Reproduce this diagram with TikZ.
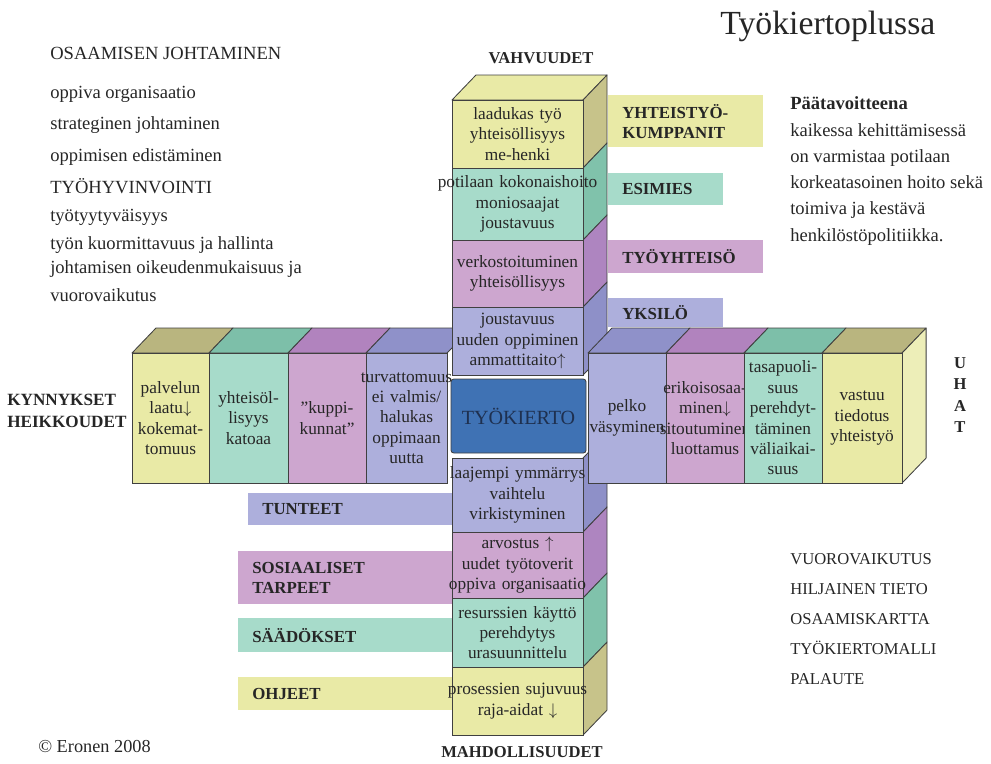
\documentclass[tikz,border=0pt]{standalone}
\usepackage{fontspec}
\setmainfont{Liberation Serif}
\usetikzlibrary{positioning, calc}

\definecolor{yelF}{HTML}{E9EAA6}
\definecolor{yelT}{HTML}{B9B57F}
\definecolor{yelS}{HTML}{C7C38A}
\definecolor{tealF}{HTML}{A7DBCA}
\definecolor{tealT}{HTML}{7DBFA9}
\definecolor{tealS}{HTML}{80C2AB}
\definecolor{pinkF}{HTML}{CDA6CF}
\definecolor{pinkT}{HTML}{B183BE}
\definecolor{pinkS}{HTML}{AE85C0}
\definecolor{blueF}{HTML}{ADAFDC}
\definecolor{blueT}{HTML}{8F91C9}
\definecolor{blueS}{HTML}{8E90C8}
\definecolor{kierto}{HTML}{3F72B4}
\definecolor{navy}{HTML}{1E3050}

\pgfdeclarelayer{faces}
\pgfsetlayers{faces,main}

\tikzstyle{cell} = [rectangle, draw=black!75, line width=0.6pt, inner sep=0pt, outer sep=0pt, align=center, text=black!85, font=\fontsize{12.3}{14.5}\selectfont]
\tikzstyle{sideface} = [draw=black!75, line width=0.6pt, line join=round]
\tikzstyle{tagbox} = [rectangle, anchor=north west, inner xsep=0.35cm, inner ysep=0pt, align=left, text=black!85, font=\bfseries\fontsize{12}{14.5}\selectfont]
\tikzstyle{txt} = [anchor=base west, inner sep=0pt, text=black!85, font=\fontsize{13.2}{16}\selectfont]
\tikzstyle{capt} = [inner sep=0pt, text=black!85, font=\bfseries\fontsize{11.8}{15}\selectfont]

\newcommand{\wideline}[1]{\makebox[\linewidth]{#1}}

\begin{document}
\begin{tikzpicture}[x=0.025cm, y=-0.025cm]
\useasboundingbox (0,0) rectangle (991,763);

% labels beside the column
\node (tunteet) [tagbox, fill=blueF, text width=4.6cm, minimum height=0.8cm] at (248,493) {TUNTEET};
\node (sosiaal) [tagbox, fill=pinkF, text width=4.85cm, minimum height=1.325cm] at (238,551) {SOSIAALISET\\TARPEET};
\node (saadok) [tagbox, fill=tealF, text width=4.85cm, minimum height=0.85cm] at (238,618) {SÄÄDÖKSET};
\node (ohjeet) [tagbox, fill=yelF, text width=4.85cm, minimum height=0.825cm] at (238,677) {OHJEET};
\node (kumpp) [tagbox, fill=yelF, text width=3.175cm, minimum height=1.3cm] at (608,95) {YHTEISTYÖ-\\KUMPPANIT};
\node (esimies) [tagbox, fill=tealF, text width=2.175cm, minimum height=0.8cm] at (608,173) {ESIMIES};
\node (tyoyht) [tagbox, fill=pinkF, text width=3.175cm, minimum height=0.825cm] at (608,240) {TYÖYHTEISÖ};
\node (yksilo) [tagbox, fill=blueF, text width=2.175cm, minimum height=0.725cm] at (608,298) {YKSILÖ};

% left bar
\node (l1) [cell, fill=yelF, text width=1.925cm, minimum height=3.25cm, anchor=north west] at (132,353) {palvelun\\laatu$\downarrow$\\kokemat-\\tomuus};
\node (l2) [cell, fill=tealF, text width=1.975cm, minimum height=3.25cm, right=0pt of l1] {yhteisöl-\\lisyys\\katoaa};
\node (l3) [cell, fill=pinkF, text width=1.95cm, minimum height=3.25cm, right=0pt of l2] {”kuppi-\\kunnat”};
\node (l4) [cell, fill=blueF, text width=2.025cm, minimum height=3.25cm, right=0pt of l3] {\wideline{turvattomuus}\\ei valmis/\\halukas\\oppimaan\\uutta};
\begin{pgfonlayer}{faces}
\foreach \n/\c in {l1/yelT, l2/tealT, l3/pinkT, l4/blueT}
  \filldraw[sideface, fill=\c] (\n.north west) -- ++(24,-25) -- ($(\n.north east)+(24,-25)$) -- (\n.north east) -- cycle;
\end{pgfonlayer}

% lower column
\node (w1) [cell, fill=blueF, text width=3.275cm, minimum height=1.85cm, anchor=north west] at (452,458) {\wideline{laajempi ymmärrys}\\vaihtelu\\virkistyminen};
\node (w2) [cell, fill=pinkF, text width=3.275cm, minimum height=1.65cm, below=0pt of w1] {arvostus $\uparrow$\\uudet työtoverit\\\wideline{oppiva organisaatio}};
\node (w3) [cell, fill=tealF, text width=3.275cm, minimum height=1.725cm, below=0pt of w2] {resurssien käyttö\\perehdytys\\urasuunnittelu};
\node (w4) [cell, fill=yelF, text width=3.275cm, minimum height=1.7cm, below=0pt of w3] {\wideline{prosessien sujuvuus}\\raja-aidat $\downarrow$};
\begin{pgfonlayer}{faces}
\foreach \n/\c in {w1/blueS, w2/pinkS, w3/tealS, w4/yelS}
  \filldraw[sideface, fill=\c] (\n.north east) -- ++(24,-25) -- ($(\n.south east)+(24,-25)$) -- (\n.south east) -- cycle;
\end{pgfonlayer}

% upper column
\node (v1) [cell, fill=yelF, text width=3.275cm, minimum height=1.7cm, anchor=north west] at (452,100) {laadukas työ\\yhteisöllisyys\\me-henki};
\node (v2) [cell, fill=tealF, text width=3.275cm, minimum height=1.8cm, below=0pt of v1] {\wideline{potilaan kokonaishoito}\\moniosaajat\\joustavuus};
\node (v3) [cell, fill=pinkF, text width=3.275cm, minimum height=1.675cm, below=0pt of v2] {verkostoituminen\\yhteisöllisyys};
\node (v4) [cell, fill=blueF, text width=3.275cm, minimum height=1.7cm, below=0pt of v3] {joustavuus\\\wideline{uuden oppiminen}\\ammattitaito$\uparrow$};
\begin{pgfonlayer}{faces}
\filldraw[sideface, fill=yelF] (v1.north west) -- ++(24,-25) -- ($(v1.north east)+(24,-25)$) -- (v1.north east) -- cycle;
\foreach \n/\c in {v1/yelS, v2/tealS, v3/pinkS, v4/blueS}
  \filldraw[sideface, fill=\c] (\n.north east) -- ++(24,-25) -- ($(\n.south east)+(24,-25)$) -- (\n.south east) -- cycle;
\end{pgfonlayer}

% centre
\node (kierto) [cell, fill=kierto, rounded corners=2pt, text width=3.375cm, minimum height=1.85cm, anchor=north west, text=navy, font=\fontsize{14.3}{16}\selectfont] at (451,379) {TYÖKIERTO};

% right bar
\node (r1) [cell, fill=blueF, text width=1.95cm, minimum height=3.25cm, anchor=north west] at (588,353) {pelko\\\wideline{väsyminen}};
\node (r2) [cell, fill=pinkF, text width=1.95cm, minimum height=3.25cm, right=0pt of r1] {\wideline{erikoisosaa-}\\minen$\downarrow$\\\wideline{sitoutuminen}\\luottamus};
\node (r3) [cell, fill=tealF, text width=1.95cm, minimum height=3.25cm, right=0pt of r2] {tasapuoli-\\suus\\perehdyt-\\täminen\\väliaikai-\\suus};
\node (r4) [cell, fill=yelF, text width=2.0cm, minimum height=3.25cm, right=0pt of r3] {vastuu\\tiedotus\\yhteistyö};
\begin{pgfonlayer}{faces}
\foreach \n/\c in {r1/blueT, r2/pinkT, r3/tealT, r4/yelT}
  \filldraw[sideface, fill=\c] (\n.north west) -- ++(24,-25) -- ($(\n.north east)+(24,-25)$) -- (\n.north east) -- cycle;
\filldraw[sideface, fill=yelF!80!white] (r4.north east) -- ++(24,-25) -- ($(r4.south east)+(24,-25)$) -- (r4.south east) -- cycle;
\end{pgfonlayer}

% headings
\node (vahv) [capt] at (541,58) {VAHVUUDET};
\node (mahd) [capt] at (522,752) {MAHDOLLISUUDET};
\node (kynn) [capt, anchor=west, align=left, font=\bfseries\fontsize{12.2}{15.6}\selectfont] at (7,411) {KYNNYKSET\\HEIKKOUDET};
\node (uhat) [capt, align=center, font=\bfseries\fontsize{11.8}{15.2}\selectfont] at (960,395) {U\\H\\A\\T};
\node (otsikko) [txt, anchor=west, font=\fontsize{24}{28}\selectfont] at (720,26) {Työkiertoplussa};
\node (tekija) [txt, font=\fontsize{13}{15}\selectfont] at (38,752) {© Eronen 2008};

% left text
\node (osaam) [txt] at (50,59) {OSAAMISEN JOHTAMINEN};
\foreach \t/\y [count=\i] in {oppiva organisaatio/98, strateginen johtaminen/129, oppimisen edistäminen/161, TYÖHYVINVOINTI/193, työtyytyväisyys/221, työn kuormittavuus ja hallinta/249, johtamisen oikeudenmukaisuus ja/273, vuorovaikutus/301}
  \node (vas\i) [txt] at (50,\y) {\t};

% right text
\node (paa) [txt, font=\bfseries\fontsize{13.2}{16}\selectfont] at (790,109) {Päätavoitteena};
\foreach \t/\y [count=\i] in {kaikessa kehittämisessä/136, on varmistaa potilaan/162, korkeatasoinen hoito sekä/188, toimiva ja kestävä/214, henkilöstöpolitiikka./241}
  \node (oik\i) [txt] at (790,\y) {\t};

% lower right list
\foreach \t/\y [count=\i] in {VUOROVAIKUTUS/564, HILJAINEN TIETO/594, OSAAMISKARTTA/624, TYÖKIERTOMALLI/654, PALAUTE/684}
  \node (lista\i) [txt, font=\fontsize{11.8}{14}\selectfont] at (790,\y) {\t};
\end{tikzpicture}
\end{document}
